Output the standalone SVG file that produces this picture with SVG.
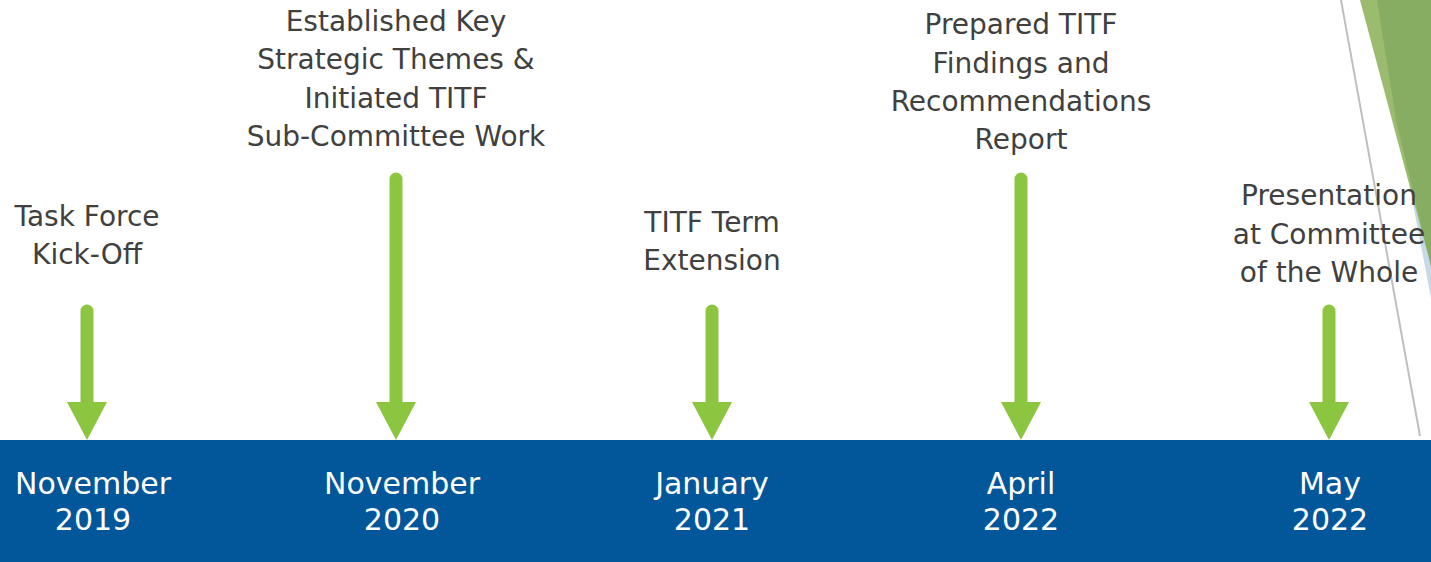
<svg xmlns="http://www.w3.org/2000/svg" width="1431" height="562" viewBox="0 0 1431 562">
<defs>
<style>
.lbl{font-family:"DejaVu Sans","Liberation Sans",sans-serif;font-size:28px;fill:#404040;text-anchor:middle}
.date{font-family:"DejaVu Sans","Liberation Sans",sans-serif;font-size:30px;fill:#ffffff;text-anchor:middle}
.shaft{stroke:#8CC540;stroke-width:13;stroke-linecap:round;fill:none}
.head{fill:#8CC540}
</style>
</defs>
<rect x="0" y="0" width="1431" height="562" fill="#ffffff"/>
<g id="decoration">
<polygon points="1374,0 1431,0 1431,298" fill="#C5D9E8"/>
<polygon points="1360,0 1431,0 1431,266" fill="#9BBB6E"/>
<polygon points="1377,0 1431,0 1431,266 1396,120" fill="#87AD63"/>
<line x1="1341" y1="0" x2="1420" y2="436" stroke="#BFBFBF" stroke-width="2"/>
</g>
<rect id="timeline-bar" x="0" y="440" width="1431" height="122" fill="#02569A"/>
<g id="connectors">
<line class="shaft" x1="87" y1="311" x2="87" y2="405"/>
<polygon class="head" points="67,402 107,402 87,440"/>
<line class="shaft" x1="396" y1="179" x2="396" y2="405"/>
<polygon class="head" points="376,402 416,402 396,440"/>
<line class="shaft" x1="712" y1="311" x2="712" y2="405"/>
<polygon class="head" points="692,402 732,402 712,440"/>
<line class="shaft" x1="1021" y1="179" x2="1021" y2="405"/>
<polygon class="head" points="1001,402 1041,402 1021,440"/>
<line class="shaft" x1="1329" y1="311" x2="1329" y2="405"/>
<polygon class="head" points="1309,402 1349,402 1329,440"/>
</g>
<g id="node-2019">
<text class="lbl" x="87" y="226">Task Force</text>
<text class="lbl" x="87" y="264">Kick-Off</text>
<text class="date" x="93" y="494">November</text>
<text class="date" x="93" y="530">2019</text>
</g>
<g id="node-2020">
<text class="lbl" x="396" y="31">Established Key</text>
<text class="lbl" x="396" y="69">Strategic Themes &amp;</text>
<text class="lbl" x="396" y="108">Initiated TITF</text>
<text class="lbl" x="396" y="146">Sub-Committee Work</text>
<text class="date" x="402" y="494">November</text>
<text class="date" x="402" y="530">2020</text>
</g>
<g id="node-2021">
<text class="lbl" x="712" y="232">TITF Term</text>
<text class="lbl" x="712" y="270">Extension</text>
<text class="date" x="712" y="494">January</text>
<text class="date" x="712" y="530">2021</text>
</g>
<g id="node-apr2022">
<text class="lbl" x="1021" y="34">Prepared TITF</text>
<text class="lbl" x="1021" y="73">Findings and</text>
<text class="lbl" x="1021" y="111">Recommendations</text>
<text class="lbl" x="1021" y="149">Report</text>
<text class="date" x="1021" y="494">April</text>
<text class="date" x="1021" y="530">2022</text>
</g>
<g id="node-may2022">
<text class="lbl" x="1329" y="205">Presentation</text>
<text class="lbl" x="1329" y="244">at Committee</text>
<text class="lbl" x="1329" y="282">of the Whole</text>
<text class="date" x="1330" y="494">May</text>
<text class="date" x="1330" y="530">2022</text>
</g>
</svg>
